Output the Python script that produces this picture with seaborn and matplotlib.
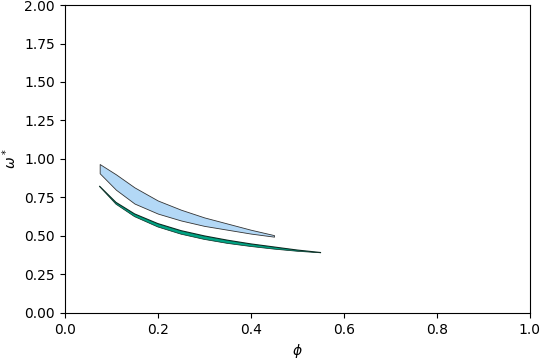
import matplotlib
matplotlib.use('Agg')
import matplotlib.pyplot as plt
import seaborn as sns

# Light blue band
phi_blue = [0.075, 0.11, 0.15, 0.2, 0.25, 0.3, 0.35, 0.4, 0.45]
blue_upper = [0.967, 0.90, 0.815, 0.73, 0.67, 0.62, 0.58, 0.54, 0.505]
blue_lower = [0.907, 0.80, 0.71, 0.645, 0.60, 0.565, 0.54, 0.515, 0.495]

# Green band
phi_green = [0.075, 0.11, 0.15, 0.2, 0.25, 0.3, 0.35, 0.4, 0.45, 0.5, 0.55]
green_lower = [0.82, 0.706, 0.625, 0.558, 0.511, 0.477, 0.451, 0.431, 0.414, 0.400, 0.39]
green_upper = [0.822, 0.718, 0.643, 0.580, 0.534, 0.500, 0.472, 0.448, 0.428, 0.408, 0.392]

fig, ax = plt.subplots(figsize=(5.4, 3.6), dpi=100)
fig.subplots_adjust(left=0.12, right=0.981, top=0.986, bottom=0.131)

# Fill the bands
ax.fill_between(phi_blue, blue_lower, blue_upper, facecolor='#b3d8f6',
                edgecolor='#333333', linewidth=0.6)
ax.fill_between(phi_green, green_lower, green_upper, facecolor='#00a383',
                edgecolor='none')

# Outline edges with seaborn
sns.lineplot(x=phi_green, y=green_lower, ax=ax, color='#0b2b22', linewidth=0.5)
sns.lineplot(x=phi_green, y=green_upper, ax=ax, color='#0b2b22', linewidth=0.8)

ax.set_xlim(0, 1)
ax.set_ylim(0, 2)
ax.set_xlabel(r'$\phi$')
ax.set_ylabel(r'$\omega^*$')

fig.savefig('out.png', dpi=100)
